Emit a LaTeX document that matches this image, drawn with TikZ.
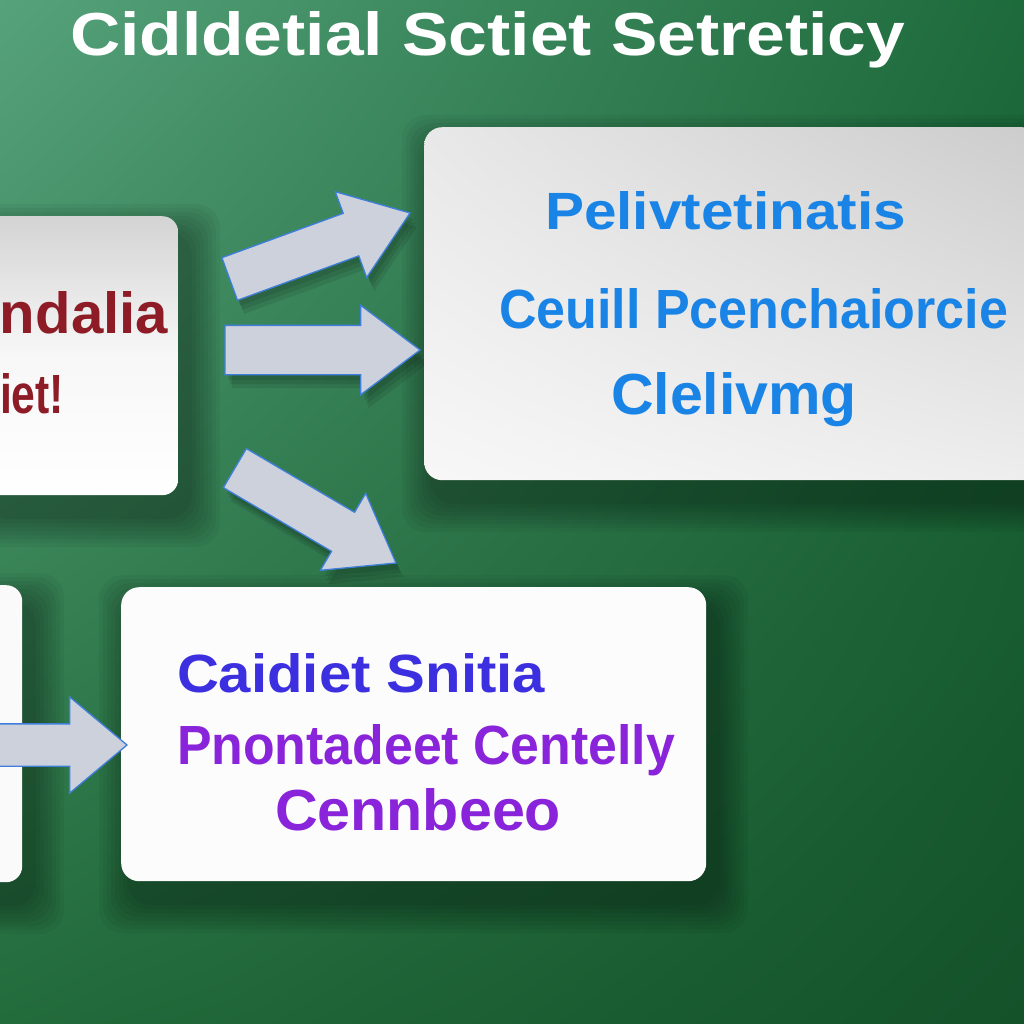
\documentclass[tikz,border=0pt]{standalone}
\usepackage{fontspec}
\usepackage{graphicx}
\setmainfont{Liberation Sans}
\usetikzlibrary{shapes.arrows,shadings}
\definecolor{bgul}{HTML}{56A27B}
\definecolor{bgur}{HTML}{1D6A3B}
\definecolor{bgll}{HTML}{226B3B}
\definecolor{bglr}{HTML}{14522A}
\definecolor{redtxt}{HTML}{8E1C26}
\definecolor{bluetxt}{HTML}{1A84E6}
\definecolor{indtxt}{HTML}{3B2FE0}
\definecolor{purtxt}{HTML}{8A24DA}
\definecolor{arrfill}{HTML}{CDD1DB}
\definecolor{arredge}{HTML}{3F7FDB}
\newcommand{\fitt}[3]{\resizebox{#1pt}{#2pt}{\bfseries #3}}
\newcommand{\boxshadow}[4]{%
  \foreach \e in {32,28,24,20,16,12,8,4}
    \fill[black, opacity=0.045, rounded corners=24] ({#1-\e+10},{#2-\e+20}) rectangle ({#3+\e+10},{#4+\e+20});}
\tikzset{
  box/.style={rounded corners=16, inner sep=0, anchor=north west},
  lbl/.style={anchor=base west, inner sep=0, outer sep=0},
  arrowgeom/.style={single arrow, inner xsep=0, minimum width=0, single arrow head indent=0, outer sep=0, anchor=tip},
  fatarrow/.style={arrowgeom, fill=arrfill, draw=arredge, line width=1.3pt},
  arrowshadow/.style={arrowgeom, fill=black, opacity=0.09, draw=none},
}
\begin{document}
\begin{tikzpicture}[x=1pt,y=-1pt]
\useasboundingbox (0,0) rectangle (1024,1024);
\clip (0,0) rectangle (1024,1024);
% background
\shade[upper left=bgul, upper right=bgur, lower left=bgll, lower right=bglr] (0,0) rectangle (1024,1024);

% title
\node[lbl, text=white] (title) at (70,56) {\fitt{835}{44}{Cidldetial Sctiet Setreticy}};

% shadows
\boxshadow{-20}{216}{178}{495}
\boxshadow{424}{127}{1040}{480}
\boxshadow{-40}{585}{22}{882}
\boxshadow{121}{587}{706}{881}

% arrow shadows
\foreach \s in {6,10,14}{
\node[arrowshadow, minimum height=192pt, inner ysep=22pt, single arrow head extend=23pt, single arrow tip angle=72, rotate=20.1] (s1\s) at (410+\s/2,213+\s) {};
\node[arrowshadow, minimum height=195pt, inner ysep=24pt, single arrow head extend=20pt, single arrow tip angle=74] (s2\s) at (420+\s/2,350+\s) {};
\node[arrowshadow, minimum height=187pt, inner ysep=22pt, single arrow head extend=22pt, single arrow tip angle=72, rotate=-30.5] (s3\s) at (396+\s/2,563+\s) {};
}

% boxes
\node[box, minimum width=198pt, minimum height=279pt, top color=black!17, bottom color=white, middle color=white!97!black] (lbox) at (-20,216) {};
\node[box, minimum width=616pt, minimum height=353pt, upper left=black!9, upper right=black!20, lower left=black!3, lower right=black!7, rounded corners=18] (rbox) at (424,127) {};
\node[box, minimum width=62pt, minimum height=297pt, fill=black!2] (lbox2) at (-40,585) {};
\node[box, minimum width=585pt, minimum height=294pt, fill=black!1, rounded corners=18] (bbox) at (121,587) {};

% arrows
\node[fatarrow, minimum height=192pt, inner ysep=22pt, single arrow head extend=23pt, single arrow tip angle=72, rotate=20.1] (a1) at (410,213) {};
\node[fatarrow, minimum height=195pt, inner ysep=24pt, single arrow head extend=20pt, single arrow tip angle=74] (a2) at (420,350) {};
\node[fatarrow, minimum height=187pt, inner ysep=22pt, single arrow head extend=22pt, single arrow tip angle=72, rotate=-30.5] (a3) at (396,563) {};
\node[fatarrow, minimum height=137pt, inner ysep=20.5pt, single arrow head extend=27pt, single arrow tip angle=80] (a4) at (127,745) {};

% left box text
\node[lbl, text=redtxt] (lt1) at (0,333) {\fitt{168}{42}{ndalia}};
\node[lbl, text=redtxt] (lt2) at (0,413) {\fitt{64}{40}{iet!}};

% right box text
\node[lbl, text=bluetxt] (rt1) at (545,230) {\fitt{361}{38}{Pelivtetinatis}};
\node[lbl, text=bluetxt] (rt2) at (499,328) {\fitt{509}{40}{Ceuill Pcenchaiorcie}};
\node[lbl, text=bluetxt] (rt3) at (611,414) {\fitt{246}{42}{Clelivmg}};

% bottom box text
\node[lbl, text=indtxt] (bt1) at (177,692) {\fitt{368}{39}{Caidiet Snitia}};
\node[lbl, text=purtxt] (bt2) at (177,764) {\fitt{498}{40}{Pnontadeet Centelly}};
\node[lbl, text=purtxt] (bt3) at (275,830) {\fitt{286}{42}{Cennbeeo}};
\end{tikzpicture}
\end{document}
